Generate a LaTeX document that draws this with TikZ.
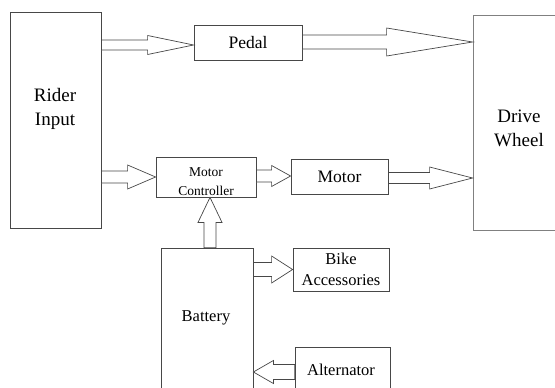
\documentclass[tikz,border=0pt]{standalone}
\usepackage{fontspec}
\setmainfont{Liberation Serif}
\usetikzlibrary{calc}
\begin{document}
\begin{tikzpicture}[x=1pt,y=-1pt,
  box/.style={draw=black!72, line width=0.8pt, inner sep=0pt, align=center},
  lbl/.style={inner sep=0pt, align=center},
  arr/.style={draw=black!72, line width=0.7pt, fill=white, line join=miter},
  blk/.style n args={3}{to path={let \p1=(\tikztostart), \p2=(\tikztotarget), \p3=($(\p2)!#3!(\p1)$) in
     ($(\p1)!#1!90:(\p2)$) -- ($(\p3)!#1!90:(\p2)$) -- ($(\p3)!#2!90:(\p2)$) -- (\p2)
     -- ($(\p3)!#2!-90:(\p2)$) -- ($(\p3)!#1!-90:(\p2)$) -- ($(\p1)!#1!-90:(\p2)$) -- cycle}},
  fa/.style={font=\fontsize{19}{24}\selectfont},
  fb/.style={font=\fontsize{17.5}{21}\selectfont},
  fc/.style={font=\fontsize{13.5}{19}\selectfont},
  fd/.style={font=\fontsize{16.5}{21}\selectfont}
]
\useasboundingbox (0,0) rectangle (555,388);
\clip (0,0) rectangle (555,388);
% boxes
\node[box, minimum width=91pt, minimum height=216pt] (rider) at (55.5,120) {};
\node[lbl, fa] (riderT) at (55,109) {Rider\\Input};
\node[box, fb, minimum width=108pt, minimum height=35pt] (pedal) at (248,42.5) {Pedal};
\node[box, draw=black!50, minimum width=92pt, minimum height=215pt] (drive) at (519,122.5) {};
\node[lbl, fa] (driveT) at (519,128) {Drive\\Wheel};
\node[box, minimum width=100pt, minimum height=40pt] (mc) at (206,177) {};
\node[lbl, fc] (mcT) at (206,182) {Motor\\Controller};
\node[box, fb, minimum width=97pt, minimum height=35pt] (motor) at (339.5,176.5) {Motor};
\node[box, minimum width=92pt, minimum height=160pt] (battery) at (207,328) {};
\node[lbl, fd] (batteryT) at (206,318) {Battery};
\node[box, fd, minimum width=96pt, minimum height=43pt] (bike) at (341,269.5) {Bike\\Accessories};
\node[box, minimum width=95pt, minimum height=50pt] (alt) at (342.5,372) {};
\node[lbl, fd] (altT) at (341,370) {Alternator};
% block arrows
\draw[arr] (rider.east |- 0,45) to[blk={5pt}{9.5pt}{46pt}] (pedal.west |- 0,45);
\draw[arr] (pedal.east |- 0,42) to[blk={7pt}{14pt}{86pt}] (drive.west |- 0,42);
\draw[arr] (rider.east |- mc.west) to[blk={6pt}{12pt}{28pt}] (mc.west);
\draw[arr] (mc.east |- 0,176) to[blk={6pt}{10.5pt}{19pt}] (motor.west |- 0,176);
\draw[arr] (motor.east |- 0,178) to[blk={5.5pt}{11pt}{43pt}] (drive.west |- 0,178);
\draw[arr] ([xshift=3pt]battery.north) to[blk={6pt}{12pt}{25pt}] ([xshift=3pt]battery.north |- mc.south);
\draw[arr] (battery.east |- bike.west) to[blk={7pt}{13.5pt}{21pt}] (bike.west);
\draw[arr] (alt.west) to[blk={7.5pt}{11.5pt}{20pt}] (battery.east |- alt.west);
\end{tikzpicture}
\end{document}
